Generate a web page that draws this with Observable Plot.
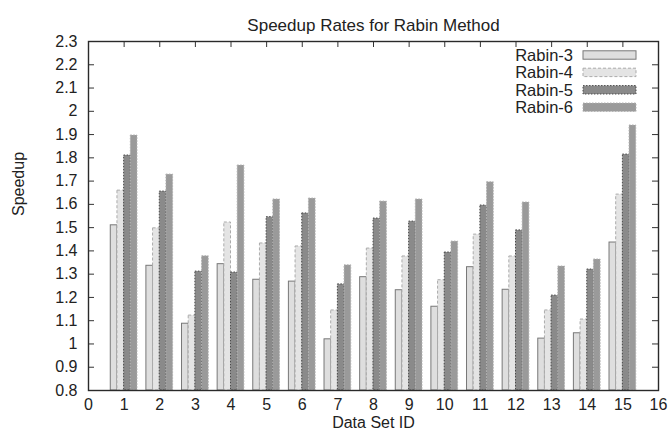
<!DOCTYPE html>
<html>
<head>
<meta charset="utf-8">
<script src="https://cdn.jsdelivr.net/npm/d3@7"></script>
<script src="https://cdn.jsdelivr.net/npm/@observablehq/plot@0.6"></script>
<style>
  html, body { margin: 0; padding: 0; background: #fff; }
</style>
</head>
<body>
<div id="chart"></div>
<script>
const title = "Speedup Rates for Rabin Method";
const xTitle = "Data Set ID";
const yTitle = "Speedup";
const ids = [1, 2, 3, 4, 5, 6, 7, 8, 9, 10, 11, 12, 13, 14, 15];
const seriesNames = ["Rabin-3", "Rabin-4", "Rabin-5", "Rabin-6"];
const rabin3 = [1.510, 1.336, 1.087, 1.343, 1.276, 1.268, 1.020, 1.287, 1.231, 1.160, 1.330, 1.233, 1.023, 1.046, 1.436];
const rabin4 = [1.659, 1.497, 1.122, 1.522, 1.432, 1.419, 1.144, 1.410, 1.376, 1.274, 1.470, 1.376, 1.144, 1.105, 1.642];
const rabin5 = [1.810, 1.655, 1.311, 1.307, 1.545, 1.561, 1.256, 1.539, 1.526, 1.393, 1.595, 1.488, 1.208, 1.320, 1.814];
const rabin6 = [1.896, 1.728, 1.377, 1.767, 1.621, 1.625, 1.338, 1.612, 1.621, 1.440, 1.695, 1.608, 1.333, 1.363, 1.939];
const xTicks = [0, 1, 2, 3, 4, 5, 6, 7, 8, 9, 10, 11, 12, 13, 14, 15, 16];
const yTicks = [0.8, 0.9, 1.0, 1.1, 1.2, 1.3, 1.4, 1.5, 1.6, 1.7, 1.8, 1.9, 2.0, 2.1, 2.2, 2.3];

const seriesValues = [rabin3, rabin4, rabin5, rabin6];
const styles = [
  {fill: "#dedede", stroke: "#787878", dash: null},
  {fill: "#e4e4e4", stroke: "#ababab", dash: "3,2"},
  {fill: "#8a8a8a", stroke: "#4a4a4a", dash: "1.5,1.5"},
  {fill: "#9a9a9a", stroke: "#b0b0b0", dash: "1.5,1.5"}
];
const groupWidth = 0.75;
const barW = groupWidth / seriesNames.length;

const W = 670, H = 436, mL = 88, mR = 12, mT = 41, mB = 46;
const fw = W - mL - mR, fh = H - mT - mB, tickLen = 6;

const rows = [];
seriesNames.forEach((name, k) => {
  ids.forEach((id, i) => rows.push({id, k, name, v: seriesValues[k][i]}));
});

const fmtY = d => String(+d.toFixed(1));
const font = "'Liberation Sans', Arial, Helvetica, sans-serif";

const barMarks = seriesNames.map((name, k) => Plot.rectY(rows.filter(r => r.k === k), {
  x1: d => d.id - groupWidth / 2 + d.k * barW,
  x2: d => d.id - groupWidth / 2 + (d.k + 1) * barW,
  y1: 0.8,
  y2: "v",
  fill: styles[k].fill,
  stroke: styles[k].stroke,
  strokeWidth: 1,
  strokeDasharray: styles[k].dash
}));

const inner = yTicks.slice(1, -1);
const chart = Plot.plot({
  width: W,
  height: H,
  marginLeft: mL,
  marginRight: mR,
  marginTop: mT,
  marginBottom: mB,
  style: {fontFamily: font, fontSize: "16px", color: "#222", background: "#fff", overflow: "visible"},
  x: {domain: [0, 16]},
  y: {domain: [0.8, 2.3]},
  marks: [
    ...barMarks,
    Plot.tickY(inner, {y: d => d, insetRight: fw - tickLen, stroke: "#333", strokeWidth: 1}),
    Plot.tickY(inner, {y: d => d, insetLeft: fw - tickLen, stroke: "#333", strokeWidth: 1}),
    Plot.tickX(xTicks.slice(1, -1), {x: d => d, insetBottom: fh - tickLen, stroke: "#333", strokeWidth: 1}),
    Plot.axisX({anchor: "bottom", ticks: xTicks, tickSize: 0, tickPadding: 8, tickFormat: d => String(d), label: null, fontSize: 16, fill: "#222"}),
    Plot.axisY({anchor: "left", ticks: yTicks, tickSize: 0, tickPadding: 11, tickFormat: fmtY, label: null, fontSize: 16, fill: "#222"}),
    Plot.frame({stroke: "#2a2a2a", strokeWidth: 1.4}),
    Plot.text([title], {frameAnchor: "top", dy: -23, fontSize: 17, fill: "#222"}),
    Plot.text([xTitle], {frameAnchor: "bottom", dy: 37, fontSize: 16, fill: "#222"}),
    Plot.text([yTitle], {frameAnchor: "left", dx: -70, rotate: -90, fontSize: 16, fill: "#222"})
  ]
});

document.getElementById("chart").appendChild(chart);

// Legend (key) inside the plot, top-right, like gnuplot
const svg = d3.select(chart.tagName === "svg" ? chart : chart.querySelector("svg"));
const key = svg.append("g").attr("font-family", font).attr("font-size", 16.5);
seriesNames.forEach((name, k) => {
  const cy = 55 + k * 17.4;
  key.append("text").attr("x", 573).attr("y", cy).attr("dy", "0.36em")
    .attr("text-anchor", "end").attr("fill", "#222").text(name);
  key.append("rect").attr("x", 583).attr("y", cy - 4.2).attr("width", 53).attr("height", 8.4)
    .attr("fill", styles[k].fill).attr("stroke", styles[k].stroke)
    .attr("stroke-dasharray", styles[k].dash);
});
</script>
</body>
</html>
